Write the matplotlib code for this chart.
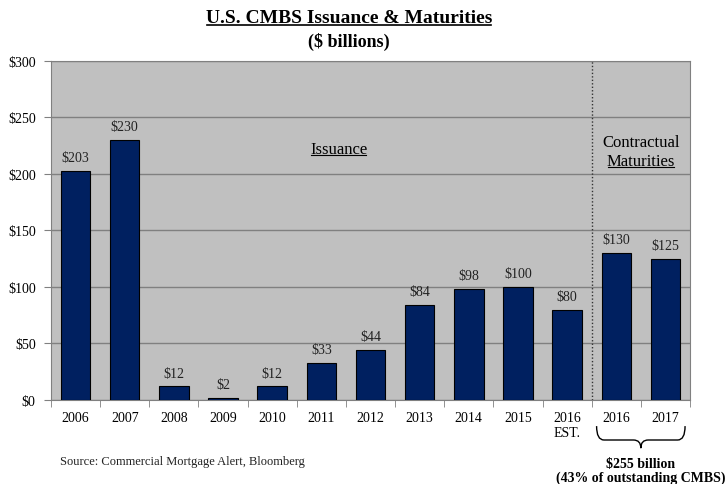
import matplotlib.pyplot as plt
from matplotlib.path import Path
from matplotlib.patches import PathPatch
import matplotlib.transforms as mtransforms

plt.rcParams['font.family'] = ['Liberation Serif', 'DejaVu Serif']

categories = ['2006', '2007', '2008', '2009', '2010', '2011', '2012', '2013',
              '2014', '2015', '2016\nEST.', '2016', '2017']
values = [203, 230, 12, 2, 12, 33, 44, 84, 98, 100, 80, 130, 125]
value_labels = ['$203', '$230', '$12', '$2', '$12', '$33', '$44', '$84',
                '$98', '$100', '$80', '$130', '$125']
y_ticks = [0, 50, 100, 150, 200, 250, 300]
y_tick_labels = ['$0', '$50', '$100', '$150', '$200', '$250', '$300']
n_issuance = 11

fig = plt.figure(figsize=(7.25, 4.85), dpi=100)
ax = fig.add_axes([0.0703, 0.1732, 0.8814, 0.699])
ax.set_facecolor('#C0C0C0')

x = list(range(len(categories)))
ax.bar(x, values, width=0.6, color='#002060', edgecolor='black', linewidth=0.8, zorder=3)
for xi, v, lab in zip(x, values, value_labels):
    ax.text(xi, v + 6, lab, ha='center', va='bottom', fontsize=10, color='#222222', zorder=4)

ax.set_xlim(-0.5, len(categories) - 0.5)
ax.set_ylim(0, 300)
ax.set_yticks(y_ticks)
ax.set_yticklabels(y_tick_labels, fontsize=10)
ax.set_xticks(x)
ax.set_xticklabels(categories, fontsize=10)
ax.tick_params(axis='x', length=0, pad=8)
ax.set_xticks([i - 0.5 for i in range(len(categories) + 1)], minor=True)
ax.tick_params(axis='x', which='minor', length=5, color='#808080', direction='out')
ax.tick_params(axis='y', length=5, color='#808080', direction='out', pad=6)
ax.grid(axis='y', color='#808080', linewidth=1.0, zorder=0)
for s in ['left', 'bottom', 'top', 'right']:
    ax.spines[s].set_color('#808080')

ax.axvline(n_issuance - 0.5, color='#333333', linestyle=(0, (1, 1.5)), linewidth=1.0, zorder=2)

lbl_iss = ax.text(5.35, 219, 'Issuance', ha='center', va='baseline', fontsize=12)
ax.text(11.5, 225, 'Contractual', ha='center', va='baseline', fontsize=12)
lbl_mat = ax.text(11.5, 208, 'Maturities', ha='center', va='baseline', fontsize=12)

# curly brace under maturity years
trans = mtransforms.blended_transform_factory(ax.transData, ax.transAxes)
x0, x1 = n_issuance - 0.4, len(categories) - 0.6
xm = (x0 + x1) / 2
ytop, ymid, ybot = -0.077, -0.118, -0.142
r = 0.15
verts = [(x0, ytop), (x0, ymid), (x0 + r, ymid),
         (xm - r, ymid),
         (xm, ymid), (xm, ybot),
         (xm, ymid), (xm + r, ymid),
         (x1 - r, ymid),
         (x1, ymid), (x1, ytop)]
codes = [Path.MOVETO, Path.CURVE3, Path.CURVE3,
         Path.LINETO,
         Path.CURVE3, Path.CURVE3,
         Path.CURVE3, Path.CURVE3,
         Path.LINETO,
         Path.CURVE3, Path.CURVE3]
brace = PathPatch(Path(verts, codes), transform=trans, fill=False,
                  edgecolor='black', linewidth=1.0, clip_on=False)
ax.add_patch(brace)
ax.text(xm, -0.186, '$255 billion', transform=trans, ha='center', va='center',
        fontsize=10, fontweight='bold')
ax.text(xm, -0.227, '(43% of outstanding CMBS)', transform=trans, ha='center',
        va='center', fontsize=10, fontweight='bold')

fig.text(0.083, 0.047, 'Source: Commercial Mortgage Alert, Bloomberg', fontsize=9,
         color='#222222', va='center')

t1 = fig.text(0.481, 0.962, 'U.S. CMBS Issuance & Maturities', ha='center', va='center',
              fontsize=14, fontweight='bold')
t2 = fig.text(0.481, 0.913, '($ billions)', ha='center', va='center', fontsize=13,
              fontweight='bold')


def underline(txt, lw=1.0, baseline=False):
    # draw a rule just under the text, using its rendered extent
    fig.canvas.draw()
    renderer = fig.canvas.get_renderer()
    bb = txt.get_window_extent(renderer)
    if baseline:
        y_disp = txt.get_transform().transform(txt.get_position())[1] - 2
    else:
        y_disp = bb.y0 + 1
    inv = fig.transFigure.inverted()
    (fx0, fy), (fx1, _) = inv.transform([(bb.x0 + 1, y_disp), (bb.x1 - 1, y_disp)])
    fig.add_artist(plt.Line2D([fx0, fx1], [fy, fy], color='black', linewidth=lw,
                              transform=fig.transFigure))


underline(t1, 1.2)
underline(lbl_iss, 0.8, baseline=True)
underline(lbl_mat, 0.8, baseline=True)

fig.savefig('out.png', dpi=100)
